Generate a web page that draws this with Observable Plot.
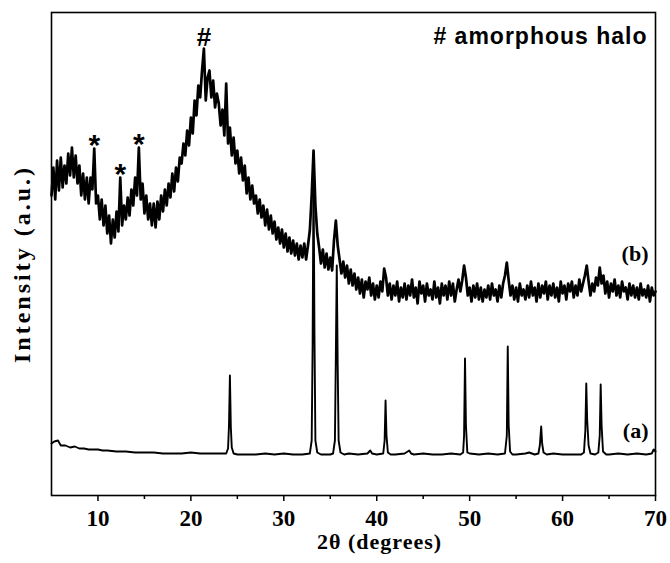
<!DOCTYPE html>
<html>
<head>
<meta charset="utf-8">
<script src="https://cdn.jsdelivr.net/npm/d3@7"></script>
<script src="https://cdn.jsdelivr.net/npm/@observablehq/plot@0.6"></script>
<style>
  html, body { margin: 0; padding: 0; background: white; }
</style>
</head>
<body>
<div id="chart"></div>
<script>
// ---- trace (a): crystalline pattern, 2θ (deg) and intensity (a.u.)
const twoThetaA = [5,5.3,5.7,6,6.5,7,7.5,8,8.5,9,9.5,10,10.5,11,12,13,14,15,16,17,18,19,20,21,22,23,23.8,24.0,24.1,24.2,24.3,24.4,24.6,25,26,27,28,29,30,31,32,32.8,33.0,33.1,33.2,33.3,33.4,33.6,34,35,35.3,35.5,35.6,35.7,35.8,35.9,36.1,36.5,37,38,39,39.3,39.5,40,40.7,40.85,40.95,41.05,41.2,41.5,42,43,43.5,43.7,44,45,46,47,48,49,49.3,49.4,49.5,49.6,49.75,50,51,52,53,53.8,54.0,54.1,54.2,54.35,54.6,55,56,56.4,57,57.4,57.55,57.7,57.8,57.95,58.3,59,60,61,62,62.3,62.45,62.55,62.65,62.8,63.0,63.5,63.85,64.0,64.1,64.2,64.35,64.7,65,66,67,68,69,69.6,69.8,70];
const intensityA = [52,54,55,50,50,48,49,47,47,46,46,46,45,45,44,44,43,43,43,42,42,42,43,42,42,42,42,47,70,120,68,48,42,41,41,41,42,41,42,41,41,42,55,150,330,160,55,43,41,41,42,55,140,230,130,55,43,41,42,41,42,45,42,41,42,55,95,60,43,41,41,42,45,42,41,42,41,41,42,41,43,60,137,70,43,42,41,42,41,42,60,149,70,44,41,41,42,43,41,42,50,69,52,43,41,42,41,41,41,43,65,112,75,50,42,41,43,60,111,70,44,41,41,42,41,42,41,42,46,44];

// ---- trace (b): amorphous sample, sampled every 0.2° from 5° to 70°
const twoThetaBStart = 5;
const twoThetaBStep = 0.2;
const intensityB = [
  300,328,296,335,305, 338,308,330,312,342, 320,348,318,340,312, 330,300,322,296,318,
  292,318,306,347,292, 300,276,296,270,290, 262,280,252,276,258, 284,264,318,270,290,
  276,298,280,306,290, 318,300,348,296,312, 282,300,276,292,270, 292,268,294,276,300,
  284,306,290,312,298, 322,304,328,314,338, 332,352,340,365,350, 378,362,395,380,410,
  398,425,447,395,418, 425,398,415,388,402, 392,370,386,360,412, 352,368,340,358,332,
  345,322,338,315,330, 302,318,296,310,292, 300,282,296,278,290, 270,286,266,280,262,
  274,256,268,252,266, 248,262,244,258,242, 255,240,252,236,250, 238,252,236,250,265,
  300,345,290,262,248, 232,246,228,242,226, 238,225,255,275,250, 236,222,234,218,230,
  212,226,210,222,206, 218,202,216,198,214, 206,218,200,212,196, 210,198,214,204,227,
  218,200,212,196,210, 200,214,194,208,198, 212,196,210,200,216, 198,208,192,214,202,
  210,194,212,200,206, 196,214,198,208,192, 212,200,210,196,214, 200,212,194,206,216,
  204,215,230,218,200, 208,194,210,198,212, 196,208,194,206,198, 210,196,212,200,206,
  194,210,198,212,220, 233,215,200,210,196, 208,194,212,200,206, 196,210,198,214,200,
  208,194,212,198,210, 202,214,196,210,200, 212,198,208,194,214, 202,210,196,212,204,
  214,198,210,200,216, 204,212,220,230,214, 200,212,204,218,210, 228,212,220,202,214,
  198,212,204,216,200, 210,198,214,204,208, 196,212,200,210,198, 208,196,212,200,206,
  198,210,194,208,200, 204
];

// ---- annotations
const starTheta = [9.6, 12.4, 14.4];     // crystalline reflections marked *
const haloTheta = [21.4];                // amorphous halo marked #
const legendText = ["# amorphous halo"];
const curveNames = ["(a)", "(b)"];
const curveLabelY = [65, 242];
const majorTicks = [10, 20, 30, 40, 50, 60, 70];
const minorTicks = [15, 25, 35, 45, 55, 65];
const xLabel = "2θ (degrees)";
const yLabel = "Intensity (a.u.)";

// ---- tables
const aData = twoThetaA.map((t, i) => ({t, v: intensityA[i]}));
const bData = intensityB.map((v, i) => ({t: +(twoThetaBStart + i * twoThetaBStep).toFixed(2), v}));
const nearestB = (t) => bData[Math.round((t - twoThetaBStart) / twoThetaBStep)];
const starData = starTheta.map(nearestB);
const haloData = haloTheta.map(nearestB);
const curveLabels = curveNames.map((label, i) => ({label, v: curveLabelY[i]}));

const serif = "'Liberation Serif', 'Times New Roman', serif";
const sans = "'Liberation Sans', Arial, sans-serif";

const svg = Plot.plot({
  width: 670,
  height: 563,
  marginLeft: 51,
  marginRight: 15,
  marginTop: 12,
  marginBottom: 68,
  style: {background: "white", fontFamily: serif, color: "black"},
  x: {domain: [5, 70]},
  y: {domain: [0, 483], axis: null},
  marks: [
    Plot.line(aData, {x: "t", y: "v", stroke: "black", strokeWidth: 1.9}),
    Plot.line(bData, {x: "t", y: "v", stroke: "black", strokeWidth: 2.7}),
    Plot.frame({stroke: "black", strokeWidth: 1.6}),
    Plot.axisX({ticks: majorTicks, tickSize: 6, tickPadding: 8, fontSize: 23, fontWeight: "bold", fontFamily: serif, label: null, strokeWidth: 1.5}),
    Plot.axisX({ticks: minorTicks, tickSize: 4, tickFormat: () => "", label: null, strokeWidth: 1.5}),
    Plot.text([xLabel], {text: d => d, frameAnchor: "bottom", dx: 26, dy: 53, fontSize: 22, fontWeight: "bold", fontFamily: serif}),
    Plot.text([yLabel], {text: d => d, frameAnchor: "left", textAnchor: "middle", rotate: -90, dx: -29, dy: 10, fontSize: 24, fontWeight: "bold", fontFamily: serif}),
    Plot.text(legendText, {text: d => d, frameAnchor: "top-right", textAnchor: "end", lineAnchor: "top", dx: -8, dy: 15, fontSize: 23, fontWeight: "bold", fontFamily: sans}),
    Plot.text(starData, {x: "t", y: "v", text: () => "*", dy: -3, fontSize: 30, fontWeight: "bold", fontFamily: sans}),
    Plot.text(haloData, {x: "t", y: "v", text: () => "#", dy: -11, fontSize: 26, fontWeight: "bold", fontFamily: sans}),
    Plot.text(curveLabels, {x: () => 70, y: "v", text: "label", textAnchor: "end", dx: -7, fontSize: 22, fontWeight: "bold", fontFamily: serif})
  ]
});

d3.select(svg).selectAll("text").each(function () {
  const s = this.textContent;
  if (s === yLabel) d3.select(this).attr("letter-spacing", "3px");
  if (s === xLabel) d3.select(this).attr("letter-spacing", "1px");
  if (s === legendText[0]) d3.select(this).attr("letter-spacing", "1px");
});

document.getElementById("chart").appendChild(svg);
</script>
</body>
</html>
